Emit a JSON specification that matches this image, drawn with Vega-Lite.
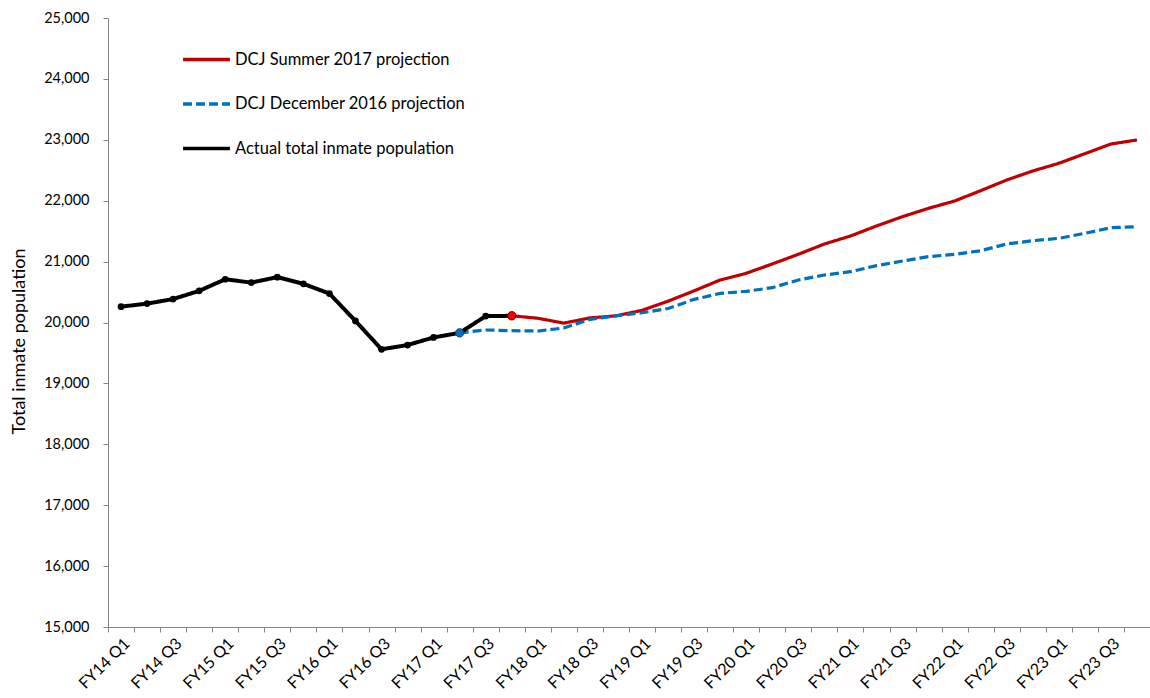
{
  "$schema": "https://vega.github.io/schema/vega-lite/v6.json",
  "autosize": {"type": "none"},
  "padding": {"left": 108, "top": 18, "right": 0, "bottom": 71},
  "width": 1042,
  "height": 609,
  "background": "white",
  "config": {
    "view": {"stroke": null},
    "font": "Lato",
    "axis": {"domainColor": "#868686", "tickColor": "#868686", "labelColor": "#000000", "titleColor": "#000000", "labelFont": "Lato", "titleFont": "Lato", "grid": false, "tickSize": 5, "domainWidth": 1, "tickWidth": 1},
    "legend": {"labelFont": "Lato"}
  },
  "data": {"values": [
      {"q": "FY14 Q1", "series": "Actual total inmate population", "value": 20260},
      {"q": "FY14 Q2", "series": "Actual total inmate population", "value": 20310},
      {"q": "FY14 Q3", "series": "Actual total inmate population", "value": 20385},
      {"q": "FY14 Q4", "series": "Actual total inmate population", "value": 20520},
      {"q": "FY15 Q1", "series": "Actual total inmate population", "value": 20710},
      {"q": "FY15 Q2", "series": "Actual total inmate population", "value": 20655},
      {"q": "FY15 Q3", "series": "Actual total inmate population", "value": 20745},
      {"q": "FY15 Q4", "series": "Actual total inmate population", "value": 20635},
      {"q": "FY16 Q1", "series": "Actual total inmate population", "value": 20475},
      {"q": "FY16 Q2", "series": "Actual total inmate population", "value": 20025},
      {"q": "FY16 Q3", "series": "Actual total inmate population", "value": 19560},
      {"q": "FY16 Q4", "series": "Actual total inmate population", "value": 19630},
      {"q": "FY17 Q1", "series": "Actual total inmate population", "value": 19755},
      {"q": "FY17 Q2", "series": "Actual total inmate population", "value": 19830},
      {"q": "FY17 Q3", "series": "Actual total inmate population", "value": 20105},
      {"q": "FY17 Q4", "series": "Actual total inmate population", "value": 20110},
      {"q": "FY17 Q4", "series": "DCJ Summer 2017 projection", "value": 20110},
      {"q": "FY18 Q1", "series": "DCJ Summer 2017 projection", "value": 20070},
      {"q": "FY18 Q2", "series": "DCJ Summer 2017 projection", "value": 19990},
      {"q": "FY18 Q3", "series": "DCJ Summer 2017 projection", "value": 20075},
      {"q": "FY18 Q4", "series": "DCJ Summer 2017 projection", "value": 20110},
      {"q": "FY19 Q1", "series": "DCJ Summer 2017 projection", "value": 20200},
      {"q": "FY19 Q2", "series": "DCJ Summer 2017 projection", "value": 20350},
      {"q": "FY19 Q3", "series": "DCJ Summer 2017 projection", "value": 20520},
      {"q": "FY19 Q4", "series": "DCJ Summer 2017 projection", "value": 20698},
      {"q": "FY20 Q1", "series": "DCJ Summer 2017 projection", "value": 20808},
      {"q": "FY20 Q2", "series": "DCJ Summer 2017 projection", "value": 20961},
      {"q": "FY20 Q3", "series": "DCJ Summer 2017 projection", "value": 21120},
      {"q": "FY20 Q4", "series": "DCJ Summer 2017 projection", "value": 21289},
      {"q": "FY21 Q1", "series": "DCJ Summer 2017 projection", "value": 21420},
      {"q": "FY21 Q2", "series": "DCJ Summer 2017 projection", "value": 21585},
      {"q": "FY21 Q3", "series": "DCJ Summer 2017 projection", "value": 21738},
      {"q": "FY21 Q4", "series": "DCJ Summer 2017 projection", "value": 21875},
      {"q": "FY22 Q1", "series": "DCJ Summer 2017 projection", "value": 21995},
      {"q": "FY22 Q2", "series": "DCJ Summer 2017 projection", "value": 22165},
      {"q": "FY22 Q3", "series": "DCJ Summer 2017 projection", "value": 22340},
      {"q": "FY22 Q4", "series": "DCJ Summer 2017 projection", "value": 22488},
      {"q": "FY23 Q1", "series": "DCJ Summer 2017 projection", "value": 22614},
      {"q": "FY23 Q2", "series": "DCJ Summer 2017 projection", "value": 22772},
      {"q": "FY23 Q3", "series": "DCJ Summer 2017 projection", "value": 22931},
      {"q": "FY23 Q4", "series": "DCJ Summer 2017 projection", "value": 22997},
      {"q": "FY17 Q2", "series": "DCJ December 2016 projection", "value": 19830},
      {"q": "FY17 Q3", "series": "DCJ December 2016 projection", "value": 19877},
      {"q": "FY17 Q4", "series": "DCJ December 2016 projection", "value": 19866},
      {"q": "FY18 Q1", "series": "DCJ December 2016 projection", "value": 19860},
      {"q": "FY18 Q2", "series": "DCJ December 2016 projection", "value": 19910},
      {"q": "FY18 Q3", "series": "DCJ December 2016 projection", "value": 20050},
      {"q": "FY18 Q4", "series": "DCJ December 2016 projection", "value": 20110},
      {"q": "FY19 Q1", "series": "DCJ December 2016 projection", "value": 20160},
      {"q": "FY19 Q2", "series": "DCJ December 2016 projection", "value": 20230},
      {"q": "FY19 Q3", "series": "DCJ December 2016 projection", "value": 20380},
      {"q": "FY19 Q4", "series": "DCJ December 2016 projection", "value": 20479},
      {"q": "FY20 Q1", "series": "DCJ December 2016 projection", "value": 20512},
      {"q": "FY20 Q2", "series": "DCJ December 2016 projection", "value": 20572},
      {"q": "FY20 Q3", "series": "DCJ December 2016 projection", "value": 20698},
      {"q": "FY20 Q4", "series": "DCJ December 2016 projection", "value": 20780},
      {"q": "FY21 Q1", "series": "DCJ December 2016 projection", "value": 20834},
      {"q": "FY21 Q2", "series": "DCJ December 2016 projection", "value": 20933},
      {"q": "FY21 Q3", "series": "DCJ December 2016 projection", "value": 21010},
      {"q": "FY21 Q4", "series": "DCJ December 2016 projection", "value": 21081},
      {"q": "FY22 Q1", "series": "DCJ December 2016 projection", "value": 21120},
      {"q": "FY22 Q2", "series": "DCJ December 2016 projection", "value": 21179},
      {"q": "FY22 Q3", "series": "DCJ December 2016 projection", "value": 21289},
      {"q": "FY22 Q4", "series": "DCJ December 2016 projection", "value": 21343},
      {"q": "FY23 Q1", "series": "DCJ December 2016 projection", "value": 21382},
      {"q": "FY23 Q2", "series": "DCJ December 2016 projection", "value": 21465},
      {"q": "FY23 Q3", "series": "DCJ December 2016 projection", "value": 21557},
      {"q": "FY23 Q4", "series": "DCJ December 2016 projection", "value": 21573}
  ]},
  "encoding": {
    "x": {
      "field": "q", "type": "ordinal",
      "scale": {"type": "band", "paddingInner": 0, "paddingOuter": 0,
        "domain": ["FY14 Q1","FY14 Q2","FY14 Q3","FY14 Q4","FY15 Q1","FY15 Q2","FY15 Q3","FY15 Q4","FY16 Q1","FY16 Q2","FY16 Q3","FY16 Q4","FY17 Q1","FY17 Q2","FY17 Q3","FY17 Q4","FY18 Q1","FY18 Q2","FY18 Q3","FY18 Q4","FY19 Q1","FY19 Q2","FY19 Q3","FY19 Q4","FY20 Q1","FY20 Q2","FY20 Q3","FY20 Q4","FY21 Q1","FY21 Q2","FY21 Q3","FY21 Q4","FY22 Q1","FY22 Q2","FY22 Q3","FY22 Q4","FY23 Q1","FY23 Q2","FY23 Q3","FY23 Q4"]},
      "axis": {"title": null, "labelAngle": -45, "labelFontSize": 16, "labelOverlap": false, "labelPadding": 3,
        "tickOffset": -13, "labelOffset": 13,
        "labelExpr": "test(/Q[13]$/, datum.label) ? datum.label : ''"}
    },
    "y": {
      "field": "value", "type": "quantitative",
      "scale": {"domain": [15000, 25000], "nice": false, "zero": false},
      "axis": {"title": "Total inmate population", "titleFontSize": 18, "titleFontWeight": "normal", "titlePadding": 15, "titleY": 323, "labelFontSize": 14.5, "format": ",d", "values": [15000,16000,17000,18000,19000,20000,21000,22000,23000,24000,25000], "labelPadding": 14}
    }
  },
  "layer": [
    {
      "transform": [{"filter": "datum.series != 'Actual total inmate population'"}],
      "mark": {"type": "line", "strokeWidth": 3.2},
      "encoding": {
        "color": {"field": "series", "type": "nominal",
          "scale": {"domain": ["DCJ Summer 2017 projection", "DCJ December 2016 projection", "Actual total inmate population"], "range": ["#C00000", "#0070C0", "#000000"]},
          "legend": {"title": null, "orient": "none", "legendX": 73, "legendY": 16, "symbolType": "stroke", "symbolStrokeWidth": 3.5, "symbolSize": 2200, "labelFontSize": 16.5, "labelColor": "#000000", "rowPadding": 10.5, "labelOffset": 3, "labelLimit": 400}},
        "strokeDash": {"field": "series", "type": "nominal",
          "scale": {"domain": ["DCJ Summer 2017 projection", "DCJ December 2016 projection", "Actual total inmate population"], "range": [[1, 0], [9, 4], [1, 0]]},
          "legend": {"title": null, "orient": "none", "legendX": 73, "legendY": 16, "symbolType": "stroke", "symbolStrokeWidth": 3.5, "symbolSize": 2200, "labelFontSize": 16.5, "labelColor": "#000000", "rowPadding": 10.5, "labelOffset": 3, "labelLimit": 400}}
      }
    },
    {
      "transform": [{"filter": "datum.series == 'Actual total inmate population'"}],
      "mark": {"type": "line", "strokeWidth": 4},
      "encoding": {
        "color": {"field": "series", "type": "nominal"},
        "strokeDash": {"field": "series", "type": "nominal"}
      }
    },
    {
      "transform": [{"filter": "datum.series == 'Actual total inmate population'"}],
      "mark": {"type": "point", "filled": true, "size": 45, "color": "#000000", "opacity": 1}
    },
    {
      "transform": [{"filter": "datum.series == 'DCJ December 2016 projection' && datum.q == 'FY17 Q2'"}],
      "mark": {"type": "point", "filled": true, "size": 70, "color": "#0070C0", "stroke": "#1F3864", "strokeWidth": 1, "opacity": 1}
    },
    {
      "transform": [{"filter": "datum.series == 'DCJ Summer 2017 projection' && datum.q == 'FY17 Q4'"}],
      "mark": {"type": "point", "filled": true, "size": 70, "color": "#FF0000", "stroke": "#5F0000", "strokeWidth": 1, "opacity": 1}
    }
  ]
}
